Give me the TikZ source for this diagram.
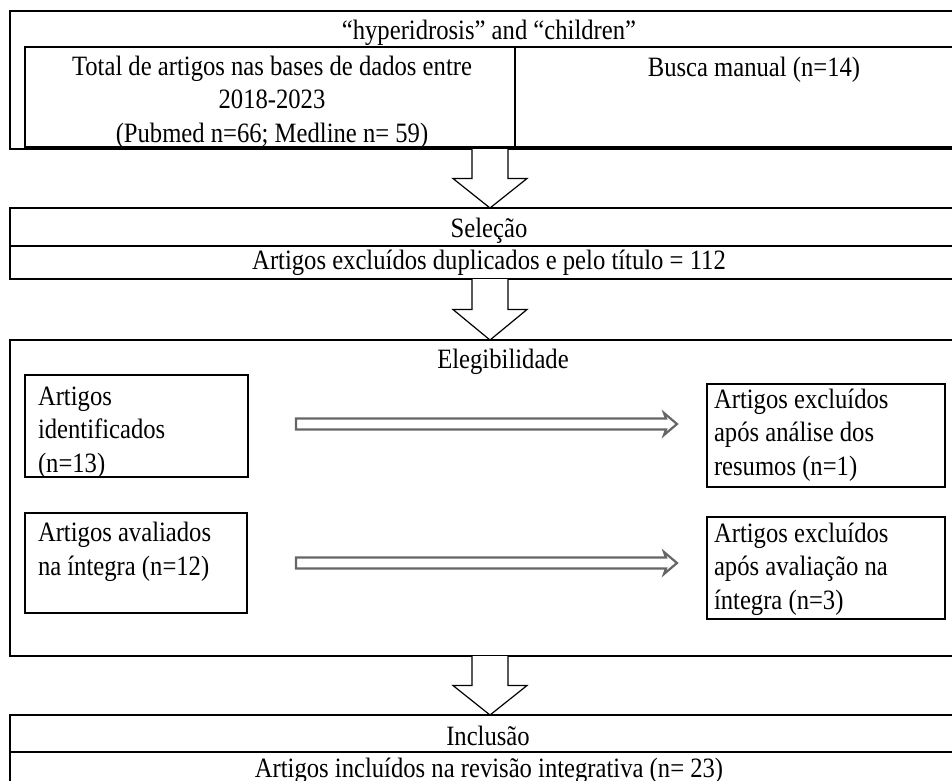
\documentclass[tikz,border=0pt]{standalone}
\usepackage{fontspec}
\setmainfont{Liberation Serif}[FakeStretch=0.88]
\usetikzlibrary{calc}
\newcommand\blockarrow[2]{%
  \draw[blk] ($(#1.south)+(-18,0)$) -- ($(#1.south)!0.5!(#2.north)+(-18,0)$)
    -- ($(#1.south)!0.5!(#2.north)+(-37,0)$) -- (#2.north)
    -- ($(#1.south)!0.5!(#2.north)+(37,0)$) -- ($(#1.south)!0.5!(#2.north)+(18,0)$)
    -- ($(#1.south)+(18,0)$);}
\newcommand\dblarrow[2]{%
  \draw[dbl] ($(#1)+(0,-5.5)$) -- ($(#2)+(-11,-5.5)$) -- ($(#2)+(-13,-11)$) -- (#2)
    -- ($(#2)+(-13,11)$) -- ($(#2)+(-11,5.5)$) -- ($(#1)+(0,5.5)$) -- cycle;}
\begin{document}
\begin{tikzpicture}[x=1pt,y=-1pt,
  box/.style={draw=black, line width=1.3pt, anchor=north west, inner sep=0pt, outer sep=0pt},
  lbl/.style={anchor=base, inner sep=0pt, outer sep=0pt, font=\fontsize{28}{33.5}\selectfont},
  lblw/.style={lbl, anchor=base west, align=left},
  blk/.style={draw=black, line width=1.2pt, fill=white, line join=miter},
  dbl/.style={draw=black!60, line width=2.2pt, fill=white, line join=miter}]
\useasboundingbox (0,0) rectangle (952,780);
\clip (0,0) rectangle (952,780);
% top block
\node[box, minimum width=960pt, minimum height=138pt] (top) at (10,11) {};
\node[box, minimum width=490pt, minimum height=100pt] (tot) at (25,47) {};
\node[box, minimum width=470pt, minimum height=100pt] (busca) at (515,47) {};
\node[lbl] (hdr) at (489,39) {“hyperidrosis” and “children”};
\node[lbl, align=center] (tottxt) at (272,142) {Total de artigos nas bases de dados entre\\2018-2023\\(Pubmed n=66; Medline n= 59)};
\node[lbl] (buscatxt) at (754,76) {Busca manual (n=14)};
% selecao
\node[box, minimum width=960pt, minimum height=71pt] (sel) at (10,208) {};
\node[box, minimum width=960pt, minimum height=33pt] (selx) at (10,246) {};
\node[lbl] (seltxt) at (489,237) {Seleção};
\node[lbl] (selxtxt) at (489,269) {Artigos excluídos duplicados e pelo título = 112};
% elegibilidade
\node[box, minimum width=960pt, minimum height=316pt] (eleg) at (10,340) {};
\node[lbl] (elegtxt) at (503,368) {Elegibilidade};
\node[box, minimum width=223pt, minimum height=102pt] (idbox) at (25,375) {};
\node[lblw] (idtxt) at (38,472) {Artigos\\identificados\\(n=13)};
\node[box, minimum width=238pt, minimum height=103pt] (exc1) at (707,384) {};
\node[lblw] (exc1txt) at (714,475) {Artigos excluídos\\após análise dos\\resumos (n=1)};
\node[box, minimum width=222pt, minimum height=100pt] (aval) at (25,513) {};
\node[lblw] (avaltxt) at (38,575) {Artigos avaliados\\na íntegra (n=12)};
\node[box, minimum width=238pt, minimum height=102pt] (exc2) at (707,517) {};
\node[lblw] (exc2txt) at (714,609) {Artigos excluídos\\após avaliação na\\íntegra (n=3)};
% inclusao
\node[box, minimum width=960pt, minimum height=100pt] (incl) at (10,715) {};
\node[box, minimum width=960pt, minimum height=60pt] (inclx) at (10,752) {};
\node[lbl] (incltxt) at (488,745) {Inclusão};
\node[lbl] (inclxtxt) at (489,777) {Artigos incluídos na revisão integrativa (n= 23)};
% block arrows
\blockarrow{top}{sel}
\blockarrow{sel}{eleg}
\blockarrow{eleg}{incl}
% double arrows
\coordinate (a1s) at ($(idbox.east)+(48,-2)$);
\coordinate (a1e) at ($(exc1.west |- a1s)+(-30,0)$);
\coordinate (a2s) at ($(aval.east)+(49,0)$);
\coordinate (a2e) at ($(exc2.west |- a2s)+(-30,0)$);
\dblarrow{a1s}{a1e}
\dblarrow{a2s}{a2e}
\end{tikzpicture}
\end{document}
